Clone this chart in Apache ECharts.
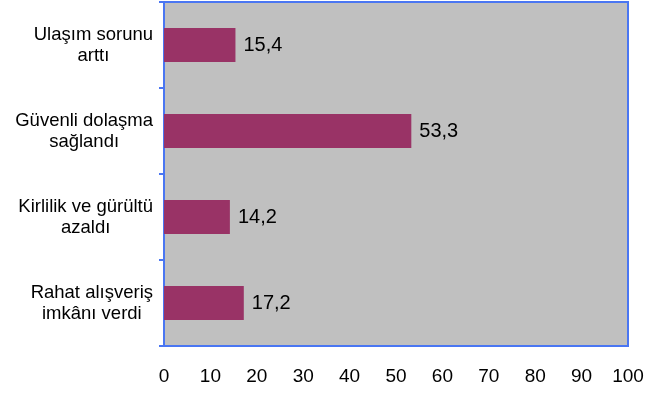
<!DOCTYPE html>
<html>
<head>
<meta charset="utf-8">
<script src="https://cdn.jsdelivr.net/npm/echarts@6/dist/echarts.min.js"></script>
<style>html,body{margin:0;padding:0;background:#fff}#c{width:648px;height:394px}</style>
</head>
<body>
<div id="c"></div>
<script>
const categories = ["Ulaşım sorunu\narttı", "Güvenli dolaşma\nsağlandı", "Kirlilik ve gürültü\nazaldı", "Rahat alışveriş\nimkânı verdi"];
const values = [15.4, 53.3, 14.2, 17.2];
const xTicks = [0, 10, 20, 30, 40, 50, 60, 70, 80, 90, 100];

const blue = '#4a76f2';
const chart = echarts.init(document.getElementById('c'));
chart.setOption({
  animation: false,
  backgroundColor: '#fff',
  textStyle: { fontFamily: 'Liberation Sans, Arial, sans-serif' },
  grid: {
    left: 164, right: 20, top: 2, bottom: 48,
    show: true, backgroundColor: '#c0c0c0', borderColor: blue, borderWidth: 2
  },
  xAxis: {
    type: 'value', min: xTicks[0], max: xTicks[xTicks.length - 1], interval: 10,
    axisLine: { show: true, lineStyle: { color: blue, width: 2 } },
    axisTick: { show: false },
    splitLine: { show: false },
    axisLabel: { color: '#000', fontSize: 19, margin: 21 }
  },
  yAxis: {
    type: 'category', inverse: true, data: categories,
    axisLine: { show: true, lineStyle: { color: blue, width: 2 } },
    axisTick: { show: true, length: 5, lineStyle: { color: blue, width: 2 } },
    axisLabel: {
      color: '#000', margin: 11, align: 'right',
      formatter: function (v) {
        return v.split('\n').map(s => '{c|' + s + '}').join('\n');
      },
      rich: { c: { align: 'center', fontSize: 18.5, lineHeight: 21, color: '#000' } }
    }
  },
  series: [{
    type: 'bar', data: values, barWidth: 34,
    itemStyle: { color: '#993366' },
    label: {
      show: true, position: 'right', distance: 8, color: '#000', fontSize: 20,
      formatter: p => String(p.value).replace('.', ',')
    }
  }]
});
</script>
</body>
</html>
